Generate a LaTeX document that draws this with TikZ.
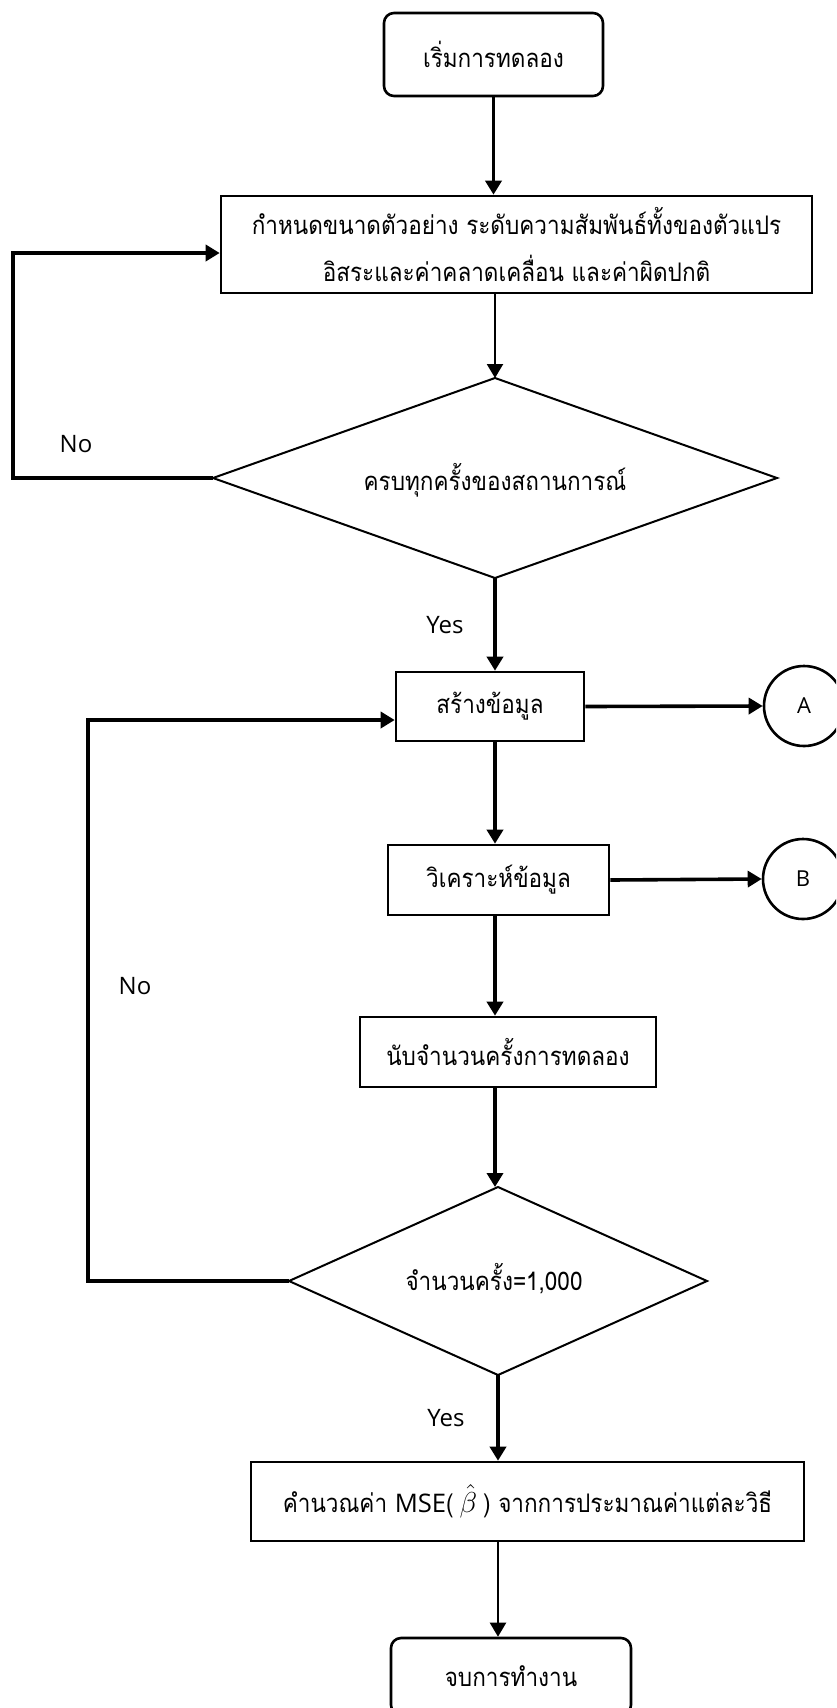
\documentclass[tikz,border=0pt]{standalone}
\usepackage{fontspec}
\setmainfont[Script=Thai, FakeStretch=0.88]{Loma}
\newfontfamily\latinfont{Open Sans}
\usetikzlibrary{arrows.meta}

\begin{document}
\begin{tikzpicture}[x=0.5pt,y=-0.5pt,
  thaitext/.style={font=\fontsize{12.8}{23.5}\selectfont},
  box/.style={draw, line width=1.3pt, inner sep=0pt, align=center, thaitext},
  roundbox/.style={box, rounded corners=5pt},
  connector/.style={draw, circle, line width=1.3pt, minimum size=40pt, inner sep=0pt,
    font=\latinfont\fontsize{11}{13}\selectfont},
  decision/.style={line width=1pt, line join=miter},
  flow/.style={line width=1.8pt, -{Triangle[length=7pt,width=8pt]}},
  thinflow/.style={line width=1.1pt, -{Triangle[length=7pt,width=8pt]}},
  label/.style={font=\latinfont\fontsize{12}{14}\selectfont, inner sep=0pt}]

\clip (0,0) rectangle (836,1708);
\fill[white] (0,0) rectangle (836,1708);

% process boxes
\node[roundbox, minimum width=109.5pt, minimum height=41.5pt] (start) at (493.5,54.5) {เริ่มการทดลอง};
\node[box, minimum width=295.5pt, minimum height=48.5pt] (setup) at (516.5,244.5)
  {กำหนดขนาดตัวอย่าง ระดับความสัมพันธ์ทั้งของตัวแปร\\อิสระและค่าคลาดเคลื่อน และค่าผิดปกติ};
\node[box, minimum width=94pt, minimum height=34.5pt] (gen) at (490,706.5) {สร้างข้อมูล};
\node[box, minimum width=110.5pt, minimum height=35pt] (anal) at (498.5,880) {วิเคราะห์ข้อมูล};
\node[box, minimum width=148pt, minimum height=35pt] (count) at (508,1052) {นับจำนวนครั้งการทดลอง};
\node[box, minimum width=276.5pt, minimum height=39.5pt] (mse) at (527.5,1501.5)
  {คำนวณค่า {\latinfont MSE}(\hspace{3pt}\hbox{\fontsize{15}{15}\selectfont$\hat{\beta}$}\hspace{3pt}) จากการประมาณค่าแต่ละวิธี};
\node[roundbox, minimum width=120pt, minimum height=38.5pt] (stop) at (511,1676.5) {จบการทำงาน};

% off-page connectors
\node[connector] (ca) at (804,706) {A};
\node[connector] (cb) at (803,879) {B};

% decision 1
\coordinate (d1n) at (495,378);
\coordinate (d1e) at (777,478);
\coordinate (d1s) at (495,578);
\coordinate (d1w) at (213,478);
\draw[decision] (d1n) -- (d1e) -- (d1s) -- (d1w) -- cycle;
\node[thaitext, inner sep=0pt] (q1) at (495,480) {ครบทุกครั้งของสถานการณ์};

% decision 2
\coordinate (d2n) at (498,1187);
\coordinate (d2e) at (707,1281);
\coordinate (d2s) at (498,1375);
\coordinate (d2w) at (289,1281);
\draw[decision] (d2n) -- (d2e) -- (d2s) -- (d2w) -- cycle;
\node[thaitext, inner sep=0pt] (q2) at (494,1279) {จำนวนครั้ง=1,000};

% main flow
\draw[flow] (start.south) -- (setup.north -| start.south);
\draw[thinflow] (d1n |- setup.south) -- (d1n);
\draw[flow] (d1s) -- (d1s |- gen.north);
\draw[flow] (d1s |- gen.south) -- (d1s |- anal.north);
\draw[flow] (d1s |- anal.south) -- (d1s |- count.north);
\draw[flow] (d1s |- count.south) -- (d1s |- d2n);
\draw[flow] (d2s) -- (d2s |- mse.north);
\draw[thinflow] (d2s |- mse.south) -- (d2s |- stop.north);

% side outputs
\draw[flow] (gen.east) -- (ca.west);
\draw[flow] (anal.east) -- (cb.west);

% loops back
\coordinate (loopa) at (13,253);
\coordinate (loopb) at (88,720);
\draw[flow] (d1w) -| (loopa) -- (setup.west |- loopa);
\draw[flow] (d2w) -| (loopb) -- (gen.west |- loopb);

% branch labels
\node[label] (no1) at (76,444) {No};
\node[label] (no2) at (135,986) {No};
\node[label] (yes1) at (445,625) {Yes};
\node[label] (yes2) at (446,1418) {Yes};
\end{tikzpicture}
\end{document}
